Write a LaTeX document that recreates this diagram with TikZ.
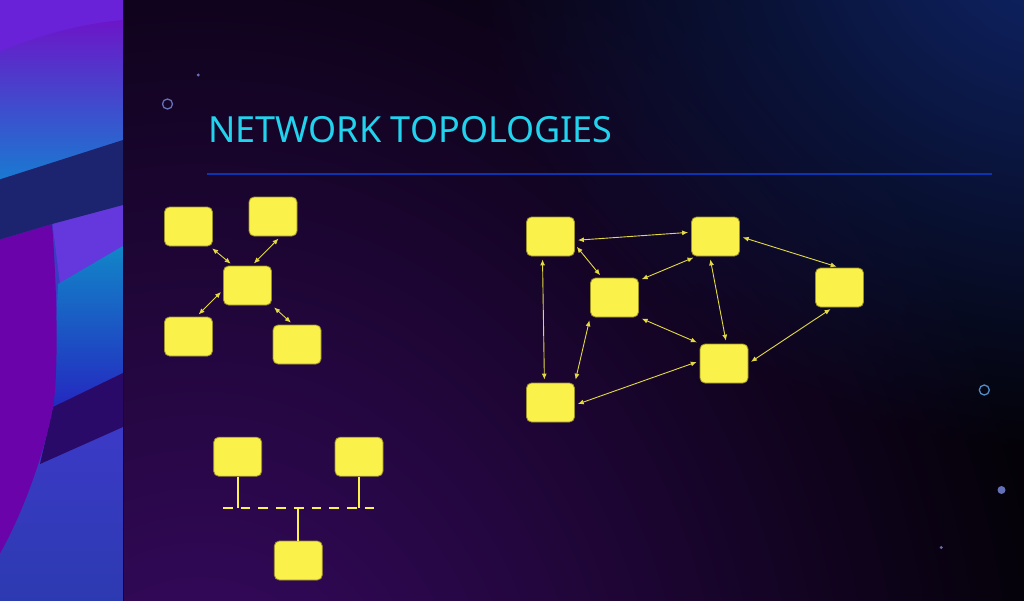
\documentclass[tikz,border=0pt]{standalone}
\usepackage{fontspec}
\setmainfont{Noto Sans}
\usetikzlibrary{arrows.meta,calc,fadings}

\definecolor{nodeyellow}{HTML}{FAF14A}
\definecolor{boxedge}{HTML}{9C9228}
\definecolor{linkyellow}{HTML}{E2D944}
\definecolor{titlecyan}{HTML}{22D3EE}
\definecolor{rulenavy}{HTML}{0C34B2}
\definecolor{bgnavy}{HTML}{10266C}
\definecolor{bgblack}{HTML}{040208}
\definecolor{bgpurple}{HTML}{3A0A66}
\definecolor{dotblue}{HTML}{6470B8}

\tikzfading[name=glowfade, inner color=transparent!0, outer color=transparent!100]

\begin{document}
\begin{tikzpicture}[x=1pt,y=-1pt,
  box/.style={draw=boxedge, line width=0.8pt, fill=nodeyellow, rounded corners=5pt,
    minimum width=48pt, minimum height=39pt, inner sep=0pt},
  link/.style={draw=linkyellow, line width=0.9pt,
    {Latex[length=6pt,width=5pt]}-{Latex[length=6pt,width=5pt]},
    shorten <=3pt, shorten >=3pt},
  wire/.style={draw=nodeyellow, line width=1.8pt}]
\useasboundingbox (0,0) rectangle (1024,600);

% background
\begin{scope}
\clip (123,-2) rectangle (1026,602);
\fill[bgblack] (123,-2) rectangle (1026,602);
\fill[bgpurple, path fading=glowfade] (200,760) ellipse (860 and 980);
\fill[bgnavy, path fading=glowfade] (1070,-70) ellipse (600 and 520);
\end{scope}

% left panel
\begin{scope}
\clip (-2,-2) rectangle (123,602);
\fill[fill={rgb,255:red,58;green,60;blue,196}] (-2,-2) rectangle (123,602);
\shade[top color={rgb,255:red,60;green,58;blue,200}, bottom color={rgb,255:red,44;green,58;blue,176}]
  (-2,420) rectangle (123,602);
\fill[fill={rgb,255:red,106;green,34;blue,216}] (-2,-2) rectangle (123,60);
\shade[top color={rgb,255:red,108;green,22;blue,200}, bottom color={rgb,255:red,20;green,128;blue,210}]
  (-2,52) .. controls (40,35) and (80,24) .. (123,20) -- (123,150) -- (-2,190) -- cycle;
\fill[fill={rgb,255:red,100;green,56;blue,220}] (52,220) -- (123,200) -- (123,248) -- (60,284) -- cycle;
\shade[top color={rgb,255:red,18;green,134;blue,200}, bottom color={rgb,255:red,36;green,40;blue,192}]
  (58,284) -- (123,246) -- (123,376) -- (52,408) -- cycle;
\fill[fill={rgb,255:red,42;green,10;blue,104}] (53,407) -- (123,373) -- (123,427) -- (40,464) -- cycle;
\fill[fill={rgb,255:red,106;green,4;blue,170}] (-2,240) -- (52,224)
  .. controls (58,300) and (58,380) .. (53,407) .. controls (45,450) and (25,510) .. (-2,557) -- cycle;
\fill[fill={rgb,255:red,28;green,36;blue,112}] (-2,180) -- (123,140) -- (123,205) -- (52,224) -- (-2,240) -- cycle;
\end{scope}
\draw[line width=1pt, bgblack!60!bgpurple] (123,-2) -- (123,602);

% dots and rings
\draw[dotblue, line width=1.3pt] (167.5,104) circle (5);
\fill[dotblue] (198.3,75) circle (1.6);
\draw[dotblue!80!cyan, line width=1.3pt] (984.3,390) circle (5);
\fill[dotblue] (1001.5,490) circle (4);
\fill[dotblue] (941.3,547.5) circle (1.6);

% title
\node (title) [anchor=base west, inner sep=0pt, text=titlecyan, font=\fontsize{36}{40}\selectfont]
  at (208,142) {NETWORK TOPOLOGIES};
\coordinate (ruleW) at (207,174);
\coordinate (ruleE) at (992,174);
\draw[rulenavy, line width=2pt] (ruleW) -- (ruleE);

% star
\node (sTL) [box] at (188.5,226.5) {};
\node (sTR) [box] at (273,216.5) {};
\node (sHub) [box] at (247.5,285.5) {};
\node (sBL) [box] at (188.5,336.5) {};
\node (sBR) [box] at (297,344.5) {};
\draw[link] (sTL.-43) -- (sHub.126);
\draw[link] (sTR.-69) -- (sHub.78);
\draw[link] (sBL.68) -- (sHub.190);
\draw[link] (sHub.south east) -- (sBR.101);

% mesh
\node (mTL) [box] at (550.5,236.5) {};
\node (mTM) [box] at (715.5,236.5) {};
\node (mML) [box] at (614.5,297.5) {};
\node (mR) [box] at (839.5,287.5) {};
\node (mBM) [box] at (724,363.5) {};
\node (mBL) [box] at (550.5,402.5) {};
\draw[link] (mTL.-9) -- (mTM.170);
\draw[link] (mTL.-18) -- (mML.122);
\draw[link] (mTL.-112) -- (mBL.107);
\draw[link] (mML.35) -- (mTM.-134);
\draw[link] (mTM.-106) -- (mBM.83);
\draw[link] (mTM.east) -- (mR.north);
\draw[link] (mML.south east) -- (mBM.north west);
\draw[link] (mML.south west) -- (mBL.north east);
\draw[link] (mBL.-6) -- (mBM.174);
\draw[link] (mR.-108) -- (mBM.east);

% bus
\node (bL) [box] at (237.7,456.7) {};
\node (bR) [box] at (359,456.7) {};
\node (bB) [box] at (298.3,560.5) {};
\coordinate (busW) at (223,508.3);
\coordinate (busE) at (375,508.3);
\draw[wire, line width=2.2pt, dash pattern=on 9.7pt off 8pt] (busW) -- (busE);
\draw[wire] (bL.south) -- (bL.south |- busW);
\draw[wire] (bR.south) -- (bR.south |- busW);
\draw[wire] (bB.north) -- (bB.north |- busW);
\end{tikzpicture}
\end{document}
